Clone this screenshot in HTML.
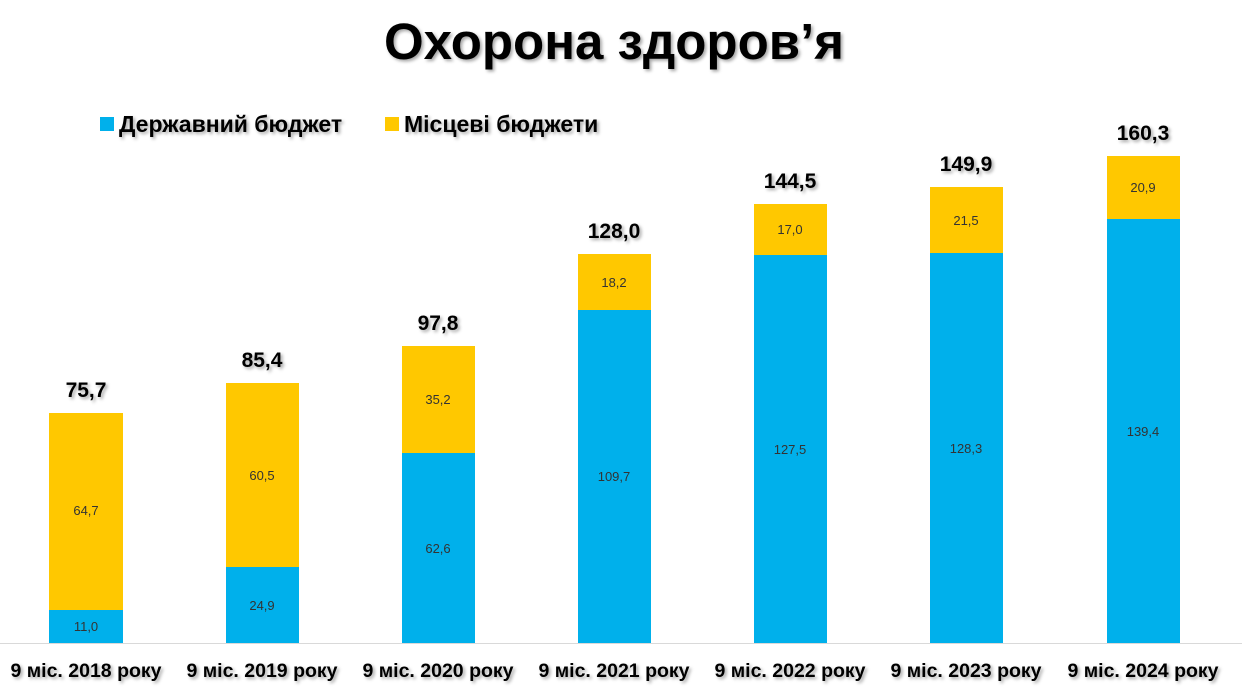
<!DOCTYPE html>
<html><head><meta charset="utf-8"><style>
html,body{margin:0;padding:0;background:#fff;}
svg{display:block;font-family:"Liberation Sans",sans-serif;}
.sh{filter:drop-shadow(2px 2px 1.5px rgba(0,0,0,0.35));}
</style></head><body>
<svg width="1242" height="696" viewBox="0 0 1242 696">
<text class="sh" x="614" y="59" text-anchor="middle" font-size="51" font-weight="bold" fill="#000">Охорона здоров’я</text>
<rect x="100" y="117" width="14" height="14" fill="#00B0EB"/>
<text class="sh" x="119" y="132" font-size="23" font-weight="bold">Державний бюджет</text>
<rect x="385" y="117" width="14" height="14" fill="#FFC800"/>
<text class="sh" x="404" y="132" font-size="23" font-weight="bold">Місцеві бюджети</text>
<line x1="0" y1="643.5" x2="1242" y2="643.5" stroke="#d9d9d9" stroke-width="1"/>
<g font-size="13" fill="#333" text-anchor="middle">
<rect x="49" y="413" width="74" height="197" fill="#FFC800"/><rect x="49" y="610" width="74" height="33" fill="#00B0EB"/>
<text x="86" y="515">64,7</text><text x="86" y="631">11,0</text>
<rect x="226" y="383" width="73" height="184" fill="#FFC800"/><rect x="226" y="567" width="73" height="76" fill="#00B0EB"/>
<text x="262" y="480">60,5</text><text x="262" y="610">24,9</text>
<rect x="402" y="346" width="73" height="107" fill="#FFC800"/><rect x="402" y="453" width="73" height="190" fill="#00B0EB"/>
<text x="438" y="404">35,2</text><text x="438" y="553">62,6</text>
<rect x="578" y="254" width="73" height="56" fill="#FFC800"/><rect x="578" y="310" width="73" height="333" fill="#00B0EB"/>
<text x="614" y="287">18,2</text><text x="614" y="481">109,7</text>
<rect x="754" y="204" width="73" height="51" fill="#FFC800"/><rect x="754" y="255" width="73" height="388" fill="#00B0EB"/>
<text x="790" y="234">17,0</text><text x="790" y="454">127,5</text>
<rect x="930" y="187" width="73" height="66" fill="#FFC800"/><rect x="930" y="253" width="73" height="390" fill="#00B0EB"/>
<text x="966" y="225">21,5</text><text x="966" y="453">128,3</text>
<rect x="1107" y="156" width="73" height="63" fill="#FFC800"/><rect x="1107" y="219" width="73" height="424" fill="#00B0EB"/>
<text x="1143" y="192">20,9</text><text x="1143" y="436">139,4</text>
</g>
<g class="sh" font-size="21" font-weight="bold" text-anchor="middle">
<text x="86" y="397">75,7</text>
<text x="262" y="367">85,4</text>
<text x="438" y="330">97,8</text>
<text x="614" y="238">128,0</text>
<text x="790" y="188">144,5</text>
<text x="966" y="171">149,9</text>
<text x="1143" y="140">160,3</text>
</g>
<g class="sh" font-size="19.5" font-weight="bold" text-anchor="middle">
<text x="86" y="677">9 міс. 2018 року</text>
<text x="262" y="677">9 міс. 2019 року</text>
<text x="438" y="677">9 міс. 2020 року</text>
<text x="614" y="677">9 міс. 2021 року</text>
<text x="790" y="677">9 міс. 2022 року</text>
<text x="966" y="677">9 міс. 2023 року</text>
<text x="1143" y="677">9 міс. 2024 року</text>
</g>
</svg>
</body></html>
